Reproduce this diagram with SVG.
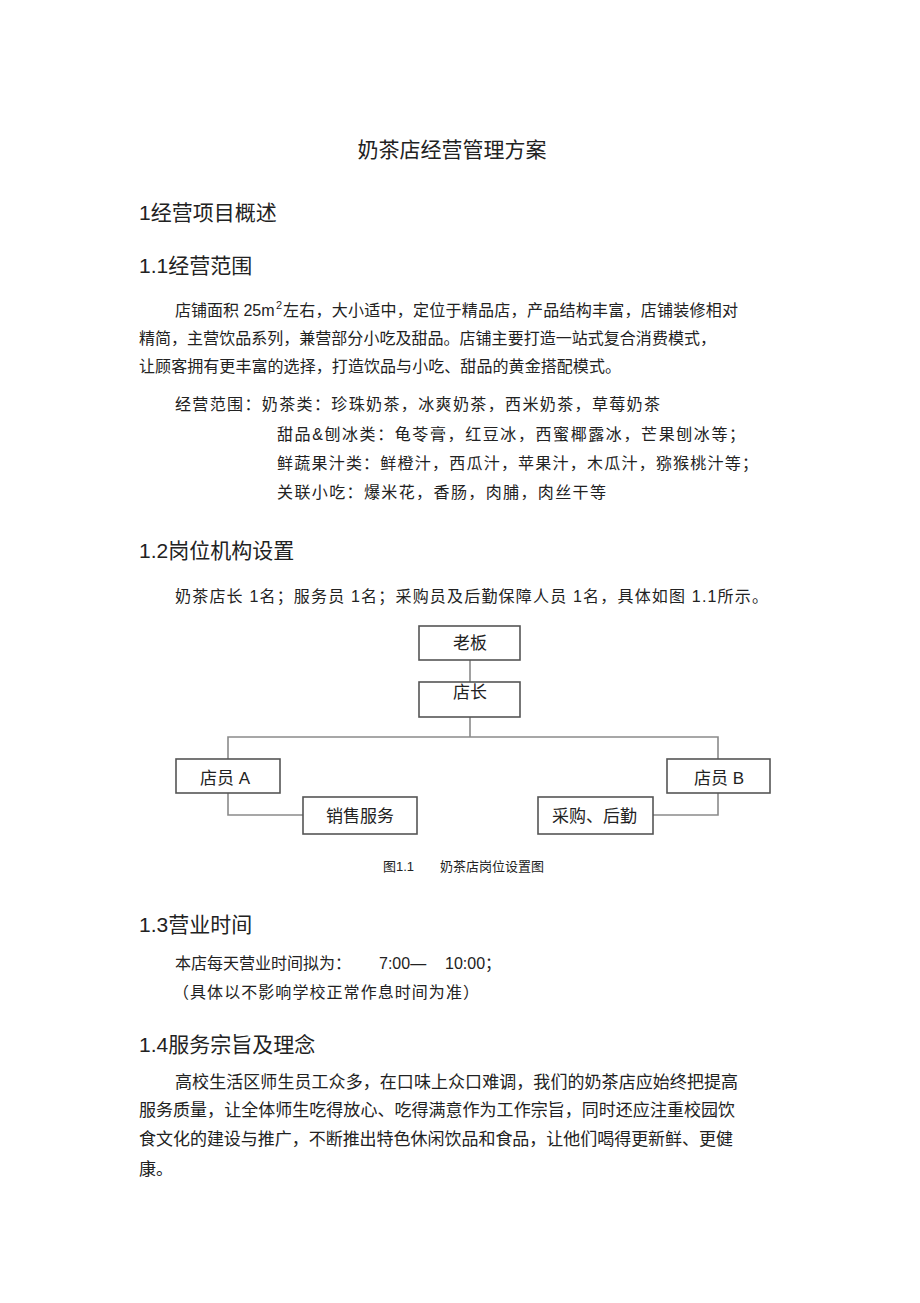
<svg xmlns="http://www.w3.org/2000/svg" width="920" height="1303" viewBox="0 0 920 1303">
<style>
text{font-family:"Liberation Sans","Noto Sans CJK SC",sans-serif;fill:#222}
.t{font-size:21px}
.h{font-size:21px}
.b{font-size:16px}
.b17{font-size:17px}
.n{font-size:17px}
.cap{font-size:13px}
.box{fill:#fff;stroke:#555;stroke-width:1.6}
.ln{fill:none;stroke:#8a8a8a;stroke-width:1.6}
</style>
<rect width="920" height="1303" fill="#fff"/>
<text class="t" x="452" y="157" text-anchor="middle">奶茶店经营管理方案</text>
<text class="h" x="139" y="220">1经营项目概述</text>
<text class="h" x="139" y="273">1.1经营范围</text>
<text class="b" x="175" y="316">店铺面积 25m</text>
<text x="276" y="309" style="font-size:11px">2</text>
<text class="b" x="283" y="316" textLength="455" lengthAdjust="spacing">左右，大小适中，定位于精品店，产品结构丰富，店铺装修相对</text>
<text class="b" x="139" y="344" textLength="577" lengthAdjust="spacing">精简，主营饮品系列，兼营部分小吃及甜品。店铺主要打造一站式复合消费模式，</text>
<text class="b" x="139" y="372" textLength="482" lengthAdjust="spacing">让顾客拥有更丰富的选择，打造饮品与小吃、甜品的黄金搭配模式。</text>
<text class="b" x="175" y="410" textLength="485" lengthAdjust="spacing">经营范围：奶茶类：珍珠奶茶，冰爽奶茶，西米奶茶，草莓奶茶</text>
<text class="b" x="277" y="440" textLength="468" lengthAdjust="spacing">甜品&amp;刨冰类：龟苓膏，红豆冰，西蜜椰露冰，芒果刨冰等；</text>
<text class="b" x="277" y="469" textLength="481" lengthAdjust="spacing">鲜蔬果汁类：鲜橙汁，西瓜汁，苹果汁，木瓜汁，猕猴桃汁等；</text>
<text class="b" x="277" y="498" textLength="329" lengthAdjust="spacing">关联小吃：爆米花，香肠，肉脯，肉丝干等</text>
<text class="h" x="139" y="558">1.2岗位机构设置</text>
<text class="b" x="175" y="602" textLength="593" lengthAdjust="spacing">奶茶店长 1名；服务员 1名；采购员及后勤保障人员  1名，具体如图 1.1所示。</text>
<g id="connectors">
<line class="ln" x1="470" y1="660" x2="470" y2="682"/>
<polyline class="ln" points="470,717 470,737"/>
<polyline class="ln" points="228,759 228,737 718,737 718,759"/>
<polyline class="ln" points="228,793 228,815 303,815"/>
<polyline class="ln" points="718,793 718,815 653,815"/>
</g>
<g id="boss"><rect class="box" x="419" y="626" width="101" height="34"/><text class="n" x="470" y="649" text-anchor="middle">老板</text></g>
<g id="manager"><rect class="box" x="419" y="682" width="101" height="35"/><text class="n" x="470" y="698" text-anchor="middle">店长</text></g>
<g id="clerkA"><rect class="box" x="176" y="759" width="104" height="34"/><text class="n" x="200" y="784">店员 A</text></g>
<g id="clerkB"><rect class="box" x="667" y="759" width="103" height="34"/><text class="n" x="694" y="784">店员 B</text></g>
<g id="sales"><rect class="box" x="303" y="797" width="114" height="37"/><text class="n" x="360" y="822" text-anchor="middle">销售服务</text></g>
<g id="purchase"><rect class="box" x="538" y="797" width="115" height="37"/><text class="n" x="552" y="822">采购、后勤</text></g>
<text class="cap" x="383" y="871">图1.1</text>
<text class="cap" x="440" y="871">奶茶店岗位设置图</text>
<text class="h" x="139" y="932">1.3营业时间</text>
<text class="b" x="175" y="969">本店每天营业时间拟为：</text>
<text class="b" x="379" y="969">7:00—</text>
<text class="b" x="445" y="969">10:00；</text>
<text class="b" x="173" y="998" textLength="306" lengthAdjust="spacing">（具体以不影响学校正常作息时间为准）</text>
<text class="h" x="139" y="1052">1.4服务宗旨及理念</text>
<text class="b17" x="175" y="1088" textLength="563" lengthAdjust="spacing">高校生活区师生员工众多，在口味上众口难调，我们的奶茶店应始终把提高</text>
<text class="b17" x="139" y="1116" textLength="596" lengthAdjust="spacing">服务质量，让全体师生吃得放心、吃得满意作为工作宗旨，同时还应注重校园饮</text>
<text class="b17" x="139" y="1145" textLength="594" lengthAdjust="spacing">食文化的建设与推广，不断推出特色休闲饮品和食品，让他们喝得更新鲜、更健</text>
<text class="b17" x="139" y="1175">康。</text>
</svg>
